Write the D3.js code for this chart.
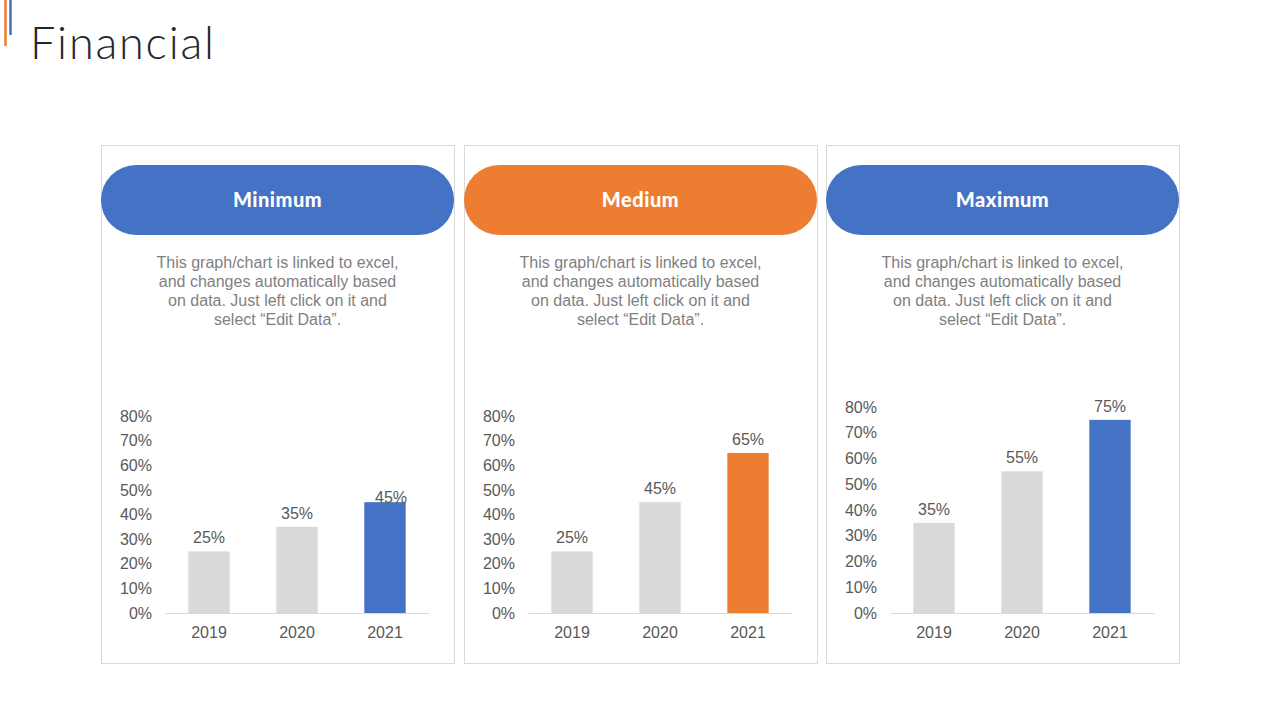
<!DOCTYPE html>
<html>
<head>
<meta charset="utf-8">
<script src="https://cdn.jsdelivr.net/npm/d3@7"></script>
<style>
  body { margin: 0; background: #fff; }
  svg { display: block; }
</style>
</head>
<body>
<div id="chart"></div>
<script>
// chart values
const years = ["2019", "2020", "2021"];
const panelTitles = ["Minimum", "Medium", "Maximum"];
const minimumValues = [0.25, 0.35, 0.45];
const mediumValues = [0.25, 0.45, 0.65];
const maximumValues = [0.35, 0.55, 0.75];
const tickValues = [0, 0.1, 0.2, 0.3, 0.4, 0.5, 0.6, 0.7, 0.8];
const bodyLines = [
  "This graph/chart is linked to excel,",
  "and changes automatically based",
  "on data. Just left click on it and",
  "select \u201cEdit Data\u201d."
];

const blue = "#4472C4", orange = "#ED7D31", grey = "#D9D9D9";
const width = 1280, height = 720;

const svg = d3.select("#chart").append("svg")
    .attr("width", width)
    .attr("height", height);

// title + accent lines
svg.append("line").attr("x1", 5.5).attr("x2", 5.5).attr("y1", 0).attr("y2", 46)
    .attr("stroke", orange).attr("stroke-width", 2.5);
svg.append("line").attr("x1", 10.5).attr("x2", 10.5).attr("y1", 0).attr("y2", 35)
    .attr("stroke", blue).attr("stroke-width", 2.5);
svg.append("text")
    .attr("x", 30).attr("y", 59)
    .attr("font-family", "Lato, sans-serif")
    .attr("font-weight", 300)
    .attr("font-size", 45)
    .attr("textLength", 184)
    .attr("lengthAdjust", "spacing")
    .attr("fill", "#262626")
    .text("Financial");

const panels = [
  { title: panelTitles[0], values: minimumValues, color: blue, x0: 101, axisLeft: 165, top: 416 },
  { title: panelTitles[1], values: mediumValues, color: orange, x0: 464, axisLeft: 528, top: 416 },
  { title: panelTitles[2], values: maximumValues, color: blue, x0: 826, axisLeft: 890, top: 407 }
];

const panelW = 353;
const font = "Liberation Sans, Arial, sans-serif";

panels.forEach((p, pi) => {
  const g = svg.append("g");
  const cx = p.x0 + panelW / 2;

  // card border
  g.append("rect")
      .attr("x", p.x0 + 0.5).attr("y", 145.5)
      .attr("width", panelW).attr("height", 518)
      .attr("fill", "none").attr("stroke", grey);

  // pill header
  g.append("rect")
      .attr("x", p.x0).attr("y", 165)
      .attr("width", panelW).attr("height", 70)
      .attr("rx", 35).attr("ry", 35)
      .attr("fill", p.color);
  g.append("text")
      .attr("x", cx).attr("y", 207)
      .attr("text-anchor", "middle")
      .attr("font-family", "Lato, sans-serif")
      .attr("font-weight", 900)
      .attr("font-size", 20)
      .attr("letter-spacing", 0.5)
      .attr("fill", "#fff")
      .text(p.title);

  // description
  g.append("g").selectAll("text")
      .data(bodyLines).join("text")
      .attr("x", cx)
      .attr("y", (d, i) => 268 + i * 19)
      .attr("text-anchor", "middle")
      .attr("font-family", font)
      .attr("font-size", 16)
      .attr("fill", "#7F7F7F")
      .text(d => d);

  // bar chart
  const x = d3.scaleBand()
      .domain(years)
      .range([p.axisLeft, p.axisLeft + 264])
      .paddingInner(0.53)
      .paddingOuter(0.265);
  const y = d3.scaleLinear()
      .domain([0, 0.8])
      .range([613, p.top]);

  const yAxis = g.append("g")
      .attr("transform", `translate(${p.axisLeft - 13},0)`)
      .call(d3.axisLeft(y).tickValues(tickValues).tickFormat(d3.format(".0%")).tickSize(0).tickPadding(0));
  yAxis.select(".domain").remove();
  yAxis.selectAll("text")
      .attr("font-family", font)
      .attr("font-size", 16)
      .attr("fill", "#595959");

  g.selectAll(".bar")
      .data(p.values).join("rect")
      .attr("x", (d, i) => x(years[i]))
      .attr("y", d => y(d))
      .attr("width", x.bandwidth())
      .attr("height", d => y(0) - y(d))
      .attr("fill", (d, i) => i === years.length - 1 ? p.color : grey);

  const xAxis = g.append("g")
      .attr("transform", `translate(0,${y(0)})`)
      .call(d3.axisBottom(x).tickSize(0).tickPadding(14));
  xAxis.select(".domain").attr("stroke", grey);
  xAxis.selectAll("text")
      .attr("font-family", font)
      .attr("font-size", 16)
      .attr("fill", "#595959");

  // value labels (first panel's last label sits lower, as in the source)
  g.selectAll(".lbl")
      .data(p.values).join("text")
      .attr("x", (d, i) => x(years[i]) + x.bandwidth() / 2 + (pi === 0 && i === 2 ? 6 : 0))
      .attr("y", (d, i) => y(d) - (pi === 0 && i === 2 ? -1 : 8))
      .attr("text-anchor", "middle")
      .attr("font-family", font)
      .attr("font-size", 16)
      .attr("fill", "#595959")
      .text(d => d3.format(".0%")(d));
});
</script>
</body>
</html>
